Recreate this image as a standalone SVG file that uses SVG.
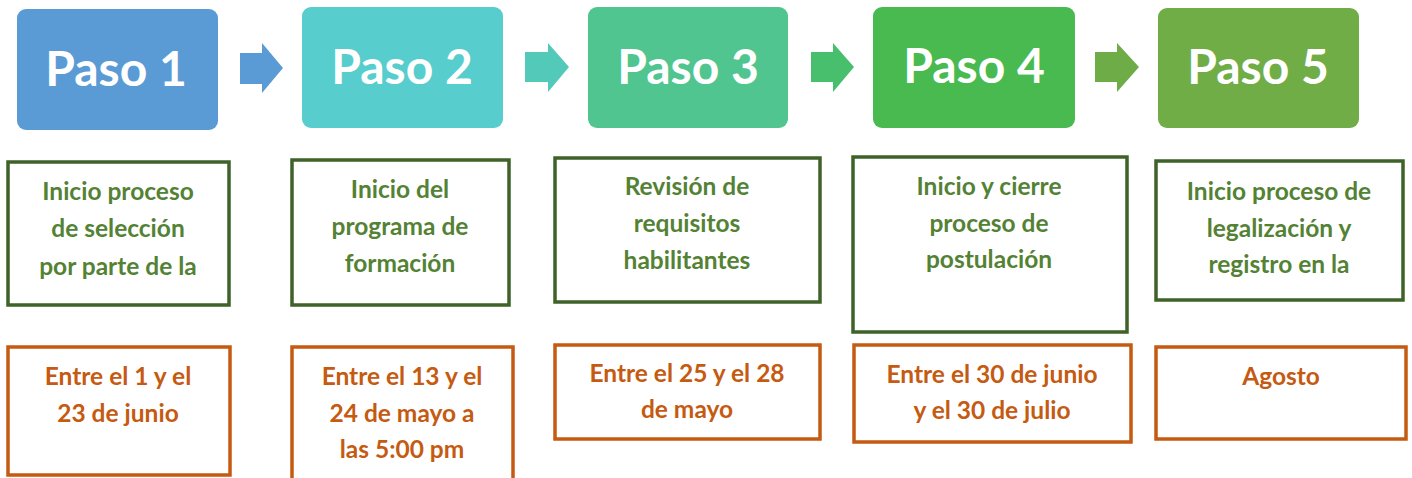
<svg xmlns="http://www.w3.org/2000/svg" width="1412" height="478" viewBox="0 0 1412 478">
<style>
.hdr{font-family:Lato,"Open Sans","Liberation Sans",sans-serif;font-weight:700;font-size:48px;fill:#fff;text-anchor:middle}
.gt{font-family:Lato,"Open Sans","Liberation Sans",sans-serif;font-weight:700;font-size:24.5px;fill:#548235;text-anchor:middle}
.ot{font-family:Lato,"Open Sans","Liberation Sans",sans-serif;font-weight:700;font-size:24.5px;fill:#C55A11;text-anchor:middle}
.gb{fill:#fff;stroke:#3F6229;stroke-width:3.5}
.ob{fill:#fff;stroke:#C55A11;stroke-width:3.5}
</style>
<rect width="1412" height="478" fill="#fff"/>
<g id="connectors">
<path d="M240,53 H262 V43 L283,68 L262,93 V84 H240 Z" fill="#5B9BD5"/>
<path d="M525,52 H548 V43 L569,67 L548,92 V82 H525 Z" fill="#53CAB9"/>
<path d="M811,52 H833 V43 L854,67 L833,92 V82 H811 Z" fill="#48BF6C"/>
<path d="M1095,52 H1117 V43 L1139,67 L1117,92 V82 H1095 Z" fill="#6EAC48"/>
</g>
<g id="paso1"><rect x="17" y="9" width="201" height="121" rx="9" fill="#5B9BD5"/><text class="hdr" x="116" y="86">Paso 1</text></g>
<g id="paso2"><rect x="302" y="7" width="201" height="121" rx="9" fill="#57CDCD"/><text class="hdr" x="402" y="84">Paso 2</text></g>
<g id="paso3"><rect x="588" y="7" width="200" height="121" rx="9" fill="#50C58F"/><text class="hdr" x="688" y="84">Paso 3</text></g>
<g id="paso4"><rect x="873" y="7" width="202" height="121" rx="9" fill="#48BA50"/><text class="hdr" x="974" y="83">Paso 4</text></g>
<g id="paso5"><rect x="1158" y="8" width="201" height="120" rx="9" fill="#70AD47"/><text class="hdr" x="1258" y="84">Paso 5</text></g>
<g id="desc1"><rect class="gb" x="8" y="162" width="221" height="143"/>
<text class="gt" x="118" y="200">Inicio proceso</text><text class="gt" x="118" y="237">de selección</text><text class="gt" x="118" y="275">por parte de la</text></g>
<g id="desc2"><rect class="gb" x="292" y="160" width="217" height="145"/>
<text class="gt" x="400" y="198">Inicio del</text><text class="gt" x="400" y="235">programa de</text><text class="gt" x="400" y="272">formación</text></g>
<g id="desc3"><rect class="gb" x="555" y="158" width="265" height="144"/>
<text class="gt" x="687" y="195">Revisión de</text><text class="gt" x="687" y="232">requisitos</text><text class="gt" x="687" y="269">habilitantes</text></g>
<g id="desc4"><rect class="gb" x="853" y="157" width="274" height="175"/>
<text class="gt" x="989" y="195">Inicio y cierre</text><text class="gt" x="989" y="232">proceso de</text><text class="gt" x="989" y="268">postulación</text></g>
<g id="desc5"><rect class="gb" x="1156" y="161" width="247" height="139"/>
<text class="gt" x="1279" y="200">Inicio proceso de</text><text class="gt" x="1279" y="237">legalización y</text><text class="gt" x="1279" y="273">registro en la</text></g>
<g id="date1"><rect class="ob" x="8" y="347" width="222" height="128"/>
<text class="ot" x="118" y="385">Entre el 1 y el</text><text class="ot" x="118" y="422">23 de junio</text></g>
<g id="date2"><rect class="ob" x="292" y="347" width="221" height="140"/>
<text class="ot" x="402" y="385">Entre el 13 y el</text><text class="ot" x="402" y="422">24 de mayo a</text><text class="ot" x="402" y="458">las 5:00 pm</text></g>
<g id="date3"><rect class="ob" x="555" y="345" width="265" height="94"/>
<text class="ot" x="687" y="382">Entre el 25 y el 28</text><text class="ot" x="687" y="418">de mayo</text></g>
<g id="date4"><rect class="ob" x="854" y="345" width="277" height="97"/>
<text class="ot" x="992" y="383">Entre el 30 de junio</text><text class="ot" x="992" y="419">y el 30 de julio</text></g>
<g id="date5"><rect class="ob" x="1156" y="347" width="250" height="92"/>
<text class="ot" x="1281" y="385">Agosto</text></g>
</svg>
